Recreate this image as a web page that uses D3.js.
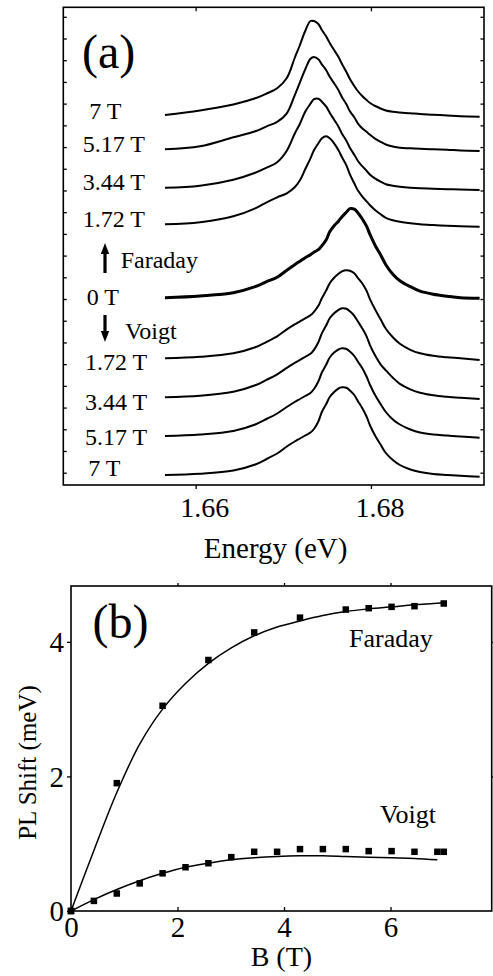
<!DOCTYPE html>
<html>
<head>
<meta charset="utf-8">
<script src="https://cdn.jsdelivr.net/npm/d3@7"></script>
<style>
  html, body { margin: 0; padding: 0; background: #fff; }
  svg { display: block; }
  svg text { font-family: "Liberation Serif", "Times New Roman", serif; fill: #000; }
</style>
</head>
<body>
<svg id="fig" width="493" height="976"></svg>
<script>
// ---------- Panel (a): PL spectra, stacked (arb. units) ----------
const energy = [1.6565, 1.6605, 1.6643, 1.6668, 1.6681, 1.6693, 1.6704, 1.6713, 1.6719, 1.6725,
                1.6731, 1.6735, 1.6740, 1.6744, 1.6749, 1.6753, 1.6758, 1.6763, 1.6767, 1.6772,
                1.6776, 1.6781, 1.6785, 1.6790, 1.6795, 1.6799, 1.6805, 1.6811, 1.6817, 1.6825,
                1.6833, 1.6845, 1.6856, 1.6871, 1.6887, 1.6902, 1.6924];

const plFaraday7   = [0, 4.5, 10.5, 16.7, 21.5, 26.7, 37, 57, 70, 84, 94, 94, 91, 85, 78.5, 72, 65, 58, 51, 43,
                      36, 29, 24, 19, 15, 12, 9, 6.5, 4.5, 3.2, 2.5, 1.8, 1, 0.3, -0.5, -1.3, -1.7];
const plFaraday517 = [0, 3, 12, 18, 23, 27.5, 36, 54, 67, 80, 90.5, 92.3, 90, 85, 79, 72.5, 66, 59, 52, 45,
                      38, 32, 26, 21, 17.5, 14.5, 10.5, 7.5, 4.8, 2.8, 1.5, 1, 0.5, 0, -0.5, -1.2, -1.7];
const plFaraday344 = [0, 2, 8, 15, 20, 25.5, 37, 54, 64, 76, 84, 88.5, 89, 86, 81, 75, 68, 61, 54, 47,
                      40, 33, 27, 21.5, 17, 13, 9, 6, 3.5, 2, 1, 0, -0.6, -1, -1.5, -1.8, -2.3];
const plFaraday172 = [0, 2, 8, 16, 22, 27, 31, 37, 44, 55, 66, 74, 81, 86, 88, 86, 81, 74, 67, 59,
                      50, 41, 34, 28, 23, 19, 14, 10, 6.5, 4, 2.5, 1, 0, -0.8, -1.5, -2, -2.4];
const plZero       = [0, 1.8, 5, 11, 16, 20.5, 27.5, 33, 36.5, 40, 43, 45.5, 48, 52, 58, 66, 72, 76.5, 81, 85.5,
                      89, 88.5, 85, 79, 71.5, 63, 52, 43, 33, 23.5, 17, 11, 6.5, 3.5, 1.5, 0, -0.6];
const plVoigt172   = [0, 1.5, 5, 11, 16.5, 22, 29, 34, 37, 40, 43, 46.5, 52.5, 60, 68, 75, 80.5, 84.5, 87, 88,
                      87.5, 85, 80.5, 75, 67.5, 59, 48.5, 39, 29.5, 21, 14.5, 8.5, 5, 2.5, 1, 0, -1.7];
const plVoigt344   = [0, 1.5, 5.5, 12, 17.5, 23, 29.5, 34.5, 37.5, 40.5, 43.5, 47.5, 55, 64, 72, 79, 84, 87.5, 89, 88.5,
                      86, 81.5, 76, 69, 61, 52, 41.5, 33, 27, 19.5, 13.5, 8, 4.5, 2, 0.5, -0.5, -1.7];
const plVoigt517   = [0, 1.5, 5, 11.5, 17, 22.5, 29, 34, 37, 40, 43, 47, 54.5, 63.5, 71.5, 78.5, 83.5, 86.5, 87.7, 87,
                      84.5, 80, 74.5, 68, 59.5, 51, 40.5, 32, 24, 16.5, 11.5, 6.5, 3.5, 1.5, 0.5, -0.5, -1.7];
const plVoigt7     = [0, 1.3, 4.5, 10.5, 16, 21.5, 28.5, 33.5, 36.5, 39.5, 42.5, 46, 53.5, 63, 71, 78, 83, 86.5, 87.7, 87.3,
                      84.5, 80, 74, 67, 58.5, 49.5, 39, 30.5, 22, 15, 10, 5.5, 3, 1, 0, -0.8, -1.7];

const spectra       = [plFaraday7, plFaraday517, plFaraday344, plFaraday172, plZero,
                       plVoigt172, plVoigt344, plVoigt517, plVoigt7];
const spectraLabels = ["7 T", "5.17 T", "3.44 T", "1.72 T", "0 T", "1.72 T", "3.44 T", "5.17 T", "7 T"];
const spectraOffset = [370, 335.7, 297.3, 260.7, 187.3, 126.7, 87.7, 49, 10];
const energyTicks   = [1.66, 1.68];

// ---------- Panel (b): PL shift vs field ----------
const faradayB     = [0, 0.86, 1.72, 2.58, 3.44, 4.30, 5.16, 5.59, 6.02, 6.45, 7.0];
const faradayShift = [0, 1.90, 3.05, 3.73, 4.14, 4.36, 4.48, 4.50, 4.52, 4.53, 4.57];
const voigtB       = [0, 0.43, 0.86, 1.29, 1.72, 2.15, 2.58, 3.01, 3.44, 3.87, 4.30, 4.73, 5.16, 5.59, 6.02, 6.45, 6.88, 7.0];
const voigtShift   = [0, 0.15, 0.26, 0.41, 0.56, 0.65, 0.71, 0.80, 0.88, 0.88, 0.92, 0.92, 0.92, 0.89, 0.89, 0.88, 0.88, 0.88];
const fitFaradayB  = [0, 0.43, 0.86, 1.29, 1.72, 2.15, 2.58, 3.01, 3.44, 3.87, 4.30, 4.73, 5.16, 5.59, 6.02, 6.45, 7.0];
const fitFaraday   = [0, 0.90, 1.76, 2.48, 3.00, 3.38, 3.68, 3.91, 4.09, 4.22, 4.31, 4.39, 4.45, 4.49, 4.52, 4.55, 4.58];
const fitVoigtB    = [0, 0.43, 0.86, 1.29, 1.72, 2.15, 2.58, 3.01, 3.44, 3.87, 4.30, 4.73, 5.16, 5.59, 6.02, 6.45, 6.88];
const fitVoigt     = [0, 0.17, 0.32, 0.45, 0.56, 0.65, 0.71, 0.76, 0.79, 0.81, 0.82, 0.82, 0.81, 0.80, 0.79, 0.78, 0.76];
const fieldTicks   = [0, 2, 4, 6];
const shiftTicks   = [0, 2, 4];

const SERIF = "Liberation Serif";
const svg = d3.select("#fig");

// ================= Panel (a) =================
const A = { l: 63.3, r: 484, t: 7.3, b: 485 };
const xA = d3.scaleLinear().domain([1.6449, 1.6929]).range([A.l, A.r]);
const yA = d3.scaleLinear().domain([0, 477.7]).range([A.b, A.t]);
const gA = svg.append("g");

// unlabelled intensity ticks along both sides
const intensityTicks = d3.range(22).map(k => 12.3 + 21.71 * k);
gA.append("g").attr("transform", `translate(${A.l},0)`)
  .call(d3.axisLeft(yA).tickValues(intensityTicks).tickSize(-3.5).tickFormat(""))
  .call(g => g.select(".domain").remove());
gA.append("g").attr("transform", `translate(${A.r},0)`)
  .call(d3.axisRight(yA).tickValues(intensityTicks).tickSize(-3.5).tickFormat(""))
  .call(g => g.select(".domain").remove());
gA.append("g").attr("transform", `translate(0,${A.t})`)
  .call(d3.axisTop(xA).tickValues(energyTicks).tickSize(-4).tickFormat(""))
  .call(g => g.select(".domain").remove());
const axA = gA.append("g").attr("transform", `translate(0,${A.b})`)
  .call(d3.axisBottom(xA).tickValues(energyTicks).tickSize(4).tickFormat(d3.format(".2f")));
axA.attr("font-family", SERIF);
axA.select(".domain").remove();
axA.selectAll("text").attr("font-family", SERIF).attr("font-size", 28)
  .attr("fill", "#000").attr("y", 31.5).attr("dy", 0).attr("dx", 8.5);
gA.selectAll(".tick line").attr("stroke", "#000").attr("stroke-width", 1.3);

gA.append("rect").attr("x", A.l).attr("y", A.t).attr("width", A.r - A.l).attr("height", A.b - A.t)
  .attr("fill", "none").attr("stroke", "#000").attr("stroke-width", 1.6);

const lineA = d3.line()
  .x((d, i) => xA(energy[i]))
  .y(d => yA(d))
  .curve(d3.curveCatmullRom.alpha(0.5));

spectra.forEach((s, k) => {
  gA.append("path")
    .datum(s.map(v => v + spectraOffset[k]))
    .attr("d", lineA)
    .attr("fill", "none")
    .attr("stroke", "#000")
    .attr("stroke-width", k === 4 ? 3 : 2)
    .attr("stroke-linejoin", "round");
});

// field labels beside each trace
const labelX = [89.3, 82.7, 82.7, 82.7, 86.7, 85, 85, 85, 88.3];
const labelY = [119, 152.3, 190, 227.3, 305, 370, 409.5, 445, 476];
spectraLabels.forEach((t, k) => {
  gA.append("text").attr("x", labelX[k]).attr("y", labelY[k])
    .attr("font-family", SERIF).attr("font-size", 24).text(t);
});

// geometry direction markers
function arrow(g, x, y0, y1) {
  const dir = Math.sign(y1 - y0);
  g.append("line").attr("x1", x).attr("x2", x).attr("y1", y0).attr("y2", y1 - dir * 9)
    .attr("stroke", "#000").attr("stroke-width", 3.2);
  g.append("path")
    .attr("d", `M${x - 4.2},${y1 - dir * 11} L${x + 4.2},${y1 - dir * 11} L${x},${y1} Z`)
    .attr("fill", "#000");
}
arrow(gA, 105, 273, 243);
gA.append("text").attr("x", 120.7).attr("y", 267.5).attr("font-family", SERIF).attr("font-size", 24).text("Faraday");
arrow(gA, 105, 315, 342);
gA.append("text").attr("x", 125).attr("y", 338.5).attr("font-family", SERIF).attr("font-size", 24).text("Voigt");

gA.append("text").attr("x", 82).attr("y", 68).attr("font-family", SERIF).attr("font-size", 48).text("(a)");
gA.append("text").attr("x", (A.l + A.r) / 2 + 2).attr("y", 558).attr("text-anchor", "middle")
  .attr("font-family", SERIF).attr("font-size", 29).text("Energy (eV)");

// ================= Panel (b) =================
const B = { l: 71, r: 491.7, t: 586, b: 911 };
const xB = d3.scaleLinear().domain([0, 7.9]).range([B.l, B.r]);
const yB = d3.scaleLinear().domain([0, 4.83]).range([B.b, B.t]);
const gB = svg.append("g");

const axBx = gB.append("g").attr("transform", `translate(0,${B.b})`)
  .call(d3.axisBottom(xB).tickValues(fieldTicks).tickSizeInner(-4).tickSizeOuter(0).tickFormat(d3.format("d")));
axBx.attr("font-family", SERIF);
axBx.select(".domain").remove();
axBx.selectAll("text").attr("font-family", SERIF).attr("font-size", 29)
  .attr("fill", "#000").attr("y", 25.5).attr("dy", 0);

const axBy = gB.append("g").attr("transform", `translate(${B.l},0)`)
  .call(d3.axisLeft(yB).tickValues(shiftTicks).tickSizeInner(4).tickSizeOuter(0).tickFormat(d3.format("d")));
axBy.attr("font-family", SERIF);
axBy.select(".domain").remove();
axBy.selectAll("text").attr("font-family", SERIF).attr("font-size", 29)
  .attr("fill", "#000").attr("x", -7).attr("dy", "0.33em");

gB.append("g").attr("transform", `translate(0,${B.t})`)
  .call(d3.axisTop(xB).tickValues(fieldTicks.slice(1)).tickSize(3).tickFormat(""))
  .call(g => g.select(".domain").remove());
gB.append("g").attr("transform", `translate(${B.r},0)`)
  .call(d3.axisRight(yB).tickValues(shiftTicks.slice(1)).tickSize(3).tickFormat(""))
  .call(g => g.select(".domain").remove());
gB.selectAll(".tick line").attr("stroke", "#000").attr("stroke-width", 1.3);

gB.append("rect").attr("x", B.l).attr("y", B.t).attr("width", B.r - B.l).attr("height", B.b - B.t)
  .attr("fill", "none").attr("stroke", "#000").attr("stroke-width", 1.6);

const lineB = d3.line().curve(d3.curveCatmullRom.alpha(0.5));
gB.append("path")
  .attr("d", lineB(fitFaradayB.map((b, i) => [xB(b), yB(fitFaraday[i])])))
  .attr("fill", "none").attr("stroke", "#000").attr("stroke-width", 1.5);
gB.append("path")
  .attr("d", lineB(fitVoigtB.map((b, i) => [xB(b), yB(fitVoigt[i])])))
  .attr("fill", "none").attr("stroke", "#000").attr("stroke-width", 1.5);

const sq = 6.5;
function squares(bs, vs) {
  gB.append("g").selectAll("rect").data(bs).join("rect")
    .attr("x", d => xB(d) - sq / 2)
    .attr("y", (d, i) => yB(vs[i]) - sq / 2)
    .attr("width", sq).attr("height", sq).attr("fill", "#000");
}
squares(faradayB, faradayShift);
squares(voigtB, voigtShift);

gB.append("text").attr("x", 92.5).attr("y", 638).attr("font-family", SERIF).attr("font-size", 48).text("(b)");
gB.append("text").attr("x", 349).attr("y", 647).attr("font-family", SERIF).attr("font-size", 26).text("Faraday");
gB.append("text").attr("x", 380).attr("y", 823).attr("font-family", SERIF).attr("font-size", 26).text("Voigt");
gB.append("text").attr("x", (B.l + B.r) / 2).attr("y", 966).attr("text-anchor", "middle")
  .attr("font-family", SERIF).attr("font-size", 28).text("B (T)");
gB.append("text").attr("transform", "translate(36,762.5) rotate(-90)")
  .attr("text-anchor", "middle").attr("font-family", SERIF).attr("font-size", 25).text("PL Shift (meV)");
</script>
</body>
</html>
